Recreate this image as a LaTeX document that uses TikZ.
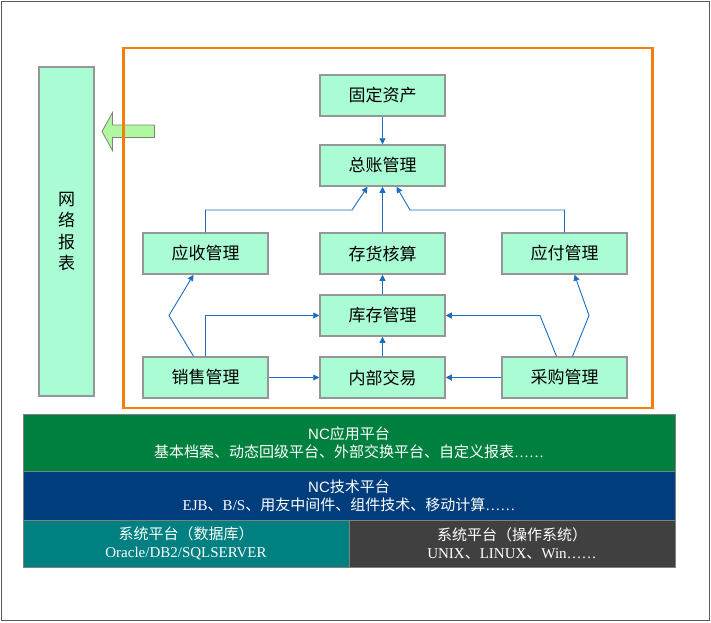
\documentclass[tikz,border=0pt]{standalone}
\usepackage{fontspec}
\newfontfamily\cjkfont{Noto Sans CJK SC}
\newfontfamily\lserif{Liberation Serif}
\newfontfamily\lsans{Liberation Sans}
\usetikzlibrary{arrows.meta}
\definecolor{nodefill}{RGB}{170,252,212}
\definecolor{nodeedge}{RGB}{150,150,150}
\definecolor{frameorange}{RGB}{245,125,10}
\definecolor{conn}{RGB}{25,110,190}
\definecolor{appgreen}{RGB}{0,128,62}
\definecolor{techblue}{RGB}{0,61,125}
\definecolor{dbteal}{RGB}{0,128,128}
\definecolor{osgray}{RGB}{64,64,64}
\definecolor{arrowfill}{RGB}{176,248,160}
\begin{document}
\begin{tikzpicture}[x=1pt,y=-1pt,
  module/.style={draw=nodeedge,line width=1.5pt,fill=nodefill,minimum width=125pt,minimum height=41pt,inner sep=0pt,font=\cjkfont\fontsize{17}{17}\selectfont},
  link/.style={draw=conn,line width=0.9pt,-{Triangle[length=6pt,width=6pt]}},
  layer/.style={draw=gray,line width=0.6pt,text=white,align=center,inner sep=0pt,font=\cjkfont\fontsize{15}{18}\selectfont}]
\useasboundingbox (0,0) rectangle (711,622);
\draw[gray!70!black,line width=1pt] (1.5,1.5) rectangle (709.5,620.5);

% left report box
\node[module,minimum width=55pt,minimum height=329pt,align=center,font=\cjkfont\fontsize{17}{21.5}\selectfont] (wl) at (66.5,231.5) {网\\络\\报\\表};

% left arrow
\draw[draw=gray,fill=arrowfill,line width=0.8pt] (102,131.5) -- (112.5,112.5) -- (112.5,125) -- (154.5,125) -- (154.5,137.5) -- (112.5,137.5) -- (112.5,150.5) -- cycle;

% orange frame
\draw[frameorange,line width=2.5pt] (123.5,48) rectangle (652.5,408);

% modules
\node[module] (gd) at (382.5,95.5) {固定资产};
\node[module] (zz) at (382.5,165.5) {总账管理};
\node[module] (ys) at (205.5,253.5) {应收管理};
\node[module] (ch) at (382.5,253.5) {存货核算};
\node[module] (yf) at (564.5,253.5) {应付管理};
\node[module] (kc) at (382.5,315.5) {库存管理};
\node[module] (xs) at (205.5,377.5) {销售管理};
\node[module] (nb) at (382.5,377.5) {内部交易};
\node[module] (cg) at (564.5,377.5) {采购管理};

% connectors
\draw[link] (gd) -- (zz);
\draw[link] (ch) -- (zz);
\draw[link] (ys.north) |- (352,210) -- ([xshift=-15pt]zz.south);
\draw[link] (yf.north) |- (410,210) -- ([xshift=14pt]zz.south);
\draw[link] (kc) -- (ch);
\draw[link] (nb) -- (kc);
\draw[link] (xs) -- (nb);
\draw[link] (cg) -- (nb);
\draw[link] (xs.north) |- (kc.west);
\draw[link] ([xshift=-8pt]cg.north) -- (540,315.5) -- (kc.east);
\draw[link] ([xshift=-12pt]xs.north) -- (169,315.5) -- ([xshift=-12pt]ys.south);
\draw[link] ([xshift=8pt]cg.north) -- (589,315.5) -- ([xshift=10pt]yf.south);

% platform layers
\node[layer,fill=appgreen,minimum width=652pt,minimum height=57pt] (app) at (349,442.5)
  {{\lsans NC}应用平台\\基本档案、动态回级平台、外部交换平台、自定义报表{\lserif ……}};
\node[layer,fill=techblue,minimum width=652pt,minimum height=49pt] (tech) at (349,495.5)
  {{\lsans NC}技术平台\\{\lserif EJB}、{\lserif B/S}、用友中间件、组件技术、移动计算{\lserif ……}};
\node[layer,fill=dbteal,minimum width=326pt,minimum height=47pt] (db) at (186,543.5)
  {系统平台（数据库）\\{\lserif Oracle/DB2/SQLSERVER}};
\node[layer,fill=osgray,minimum width=326pt,minimum height=47pt] (os) at (512,543.5)
  {系统平台（操作系统）\\{\lserif UNIX}、{\lserif LINUX}、{\lserif Win……}};
\end{tikzpicture}
\end{document}
